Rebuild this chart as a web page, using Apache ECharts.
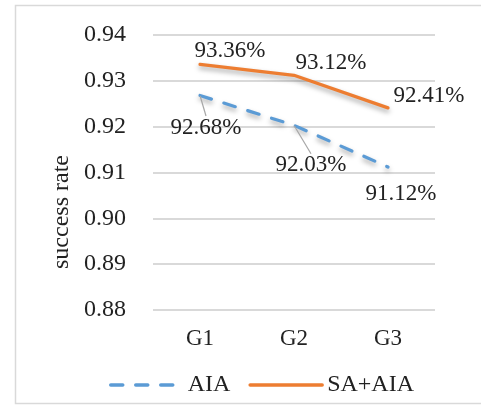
<!DOCTYPE html>
<html>
<head>
<meta charset="utf-8">
<script src="https://cdn.jsdelivr.net/npm/echarts@6/dist/echarts.min.js"></script>
<style>
html,body{margin:0;padding:0;background:#fff;}
#chart{width:481px;height:405px;}
</style>
</head>
<body>
<div id="chart"></div>
<script>
var categories = ['G1', 'G2', 'G3'];
var aiaValues = [0.9268, 0.9203, 0.9112];
var saAiaValues = [0.9336, 0.9312, 0.9241];
var yTicks = [0.88, 0.89, 0.90, 0.91, 0.92, 0.93, 0.94];

var FONT = '"Liberation Serif", "Times New Roman", serif';
var TXT = '#222222';
var FS = 23;

var chart = echarts.init(document.getElementById('chart'));

var aiaOffsets = [[6, 32], [17, 40], [13, 27]];
var aiaLeader = [true, true, false];
var saOffsets = [[30, -13], [37, -12], [41, -12]];

function pct(p) { return (p.value * 100).toFixed(2) + '%'; }

var dashAIA = [12, 13];

chart.setOption({
  animation: false,
  backgroundColor: '#fff',
  graphic: [{
    type: 'rect',
    shape: { x: 15.5, y: 5.5, width: 480, height: 398 },
    style: { fill: 'none', stroke: '#d9d9d9', lineWidth: 1.5 },
    silent: true
  }, {
    type: 'text',
    x: 62, y: 212,
    rotation: Math.PI / 2,
    style: {
      text: 'success rate', fontFamily: FONT, fontSize: 24, fill: TXT,
      textAlign: 'center', textVerticalAlign: 'middle'
    },
    silent: true
  }],
  grid: { left: 153, right: 46, top: 35, bottom: 95 },
  legend: {
    bottom: 3,
    left: 104,
    itemWidth: 72,
    itemHeight: 12,
    itemGap: 18,
    itemStyle: { opacity: 0 },
    textStyle: { fontFamily: FONT, fontSize: 24, color: TXT },
    data: [
      { name: 'AIA', lineStyle: { color: '#5b9bd5', width: 3.5, type: dashAIA, cap: 'round' } },
      { name: 'SA+AIA', lineStyle: { color: '#ed7d31', width: 3.5, type: 'solid', cap: 'round' } }
    ]
  },
  xAxis: {
    type: 'category',
    data: categories,
    boundaryGap: true,
    axisLine: { show: false },
    axisTick: { show: false },
    axisLabel: { fontFamily: FONT, fontSize: FS, color: TXT, margin: 17 }
  },
  yAxis: {
    type: 'value',
    min: yTicks[0],
    max: yTicks[yTicks.length - 1],
    interval: 0.01,
    axisLine: { show: false },
    axisTick: { show: false },
    splitLine: { lineStyle: { color: '#d9d9d9', width: 1.8 } },
    axisLabel: {
      fontFamily: FONT, fontSize: 24, color: TXT, margin: 27,
      formatter: function (v) { return v.toFixed(2); }
    }
  },
  series: [{
    name: 'AIA',
    type: 'line',
    data: aiaValues.map(function (v, i) {
      return { value: v, labelLine: { show: aiaLeader[i] } };
    }),
    symbol: 'circle',
    symbolSize: 1,
    showSymbol: true,
    itemStyle: { color: 'rgba(0,0,0,0)', borderWidth: 0 },
    color: '#5b9bd5',
    lineStyle: {
      color: '#5b9bd5', width: 3.2, type: dashAIA, cap: 'round',
      shadowColor: 'rgba(0,0,0,0.35)', shadowBlur: 5, shadowOffsetY: 3
    },
    label: {
      show: true, position: 'inside', formatter: pct,
      fontFamily: FONT, fontSize: FS, color: TXT
    },
    labelLine: { show: true, lineStyle: { color: '#a6a6a6', width: 1.2 } },
    labelLayout: function (p) {
      var o = aiaOffsets[p.dataIndex];
      return { dx: o[0], dy: o[1] };
    },
    z: 3
  }, {
    name: 'SA+AIA',
    type: 'line',
    data: saAiaValues,
    symbol: 'circle',
    symbolSize: 1,
    showSymbol: true,
    itemStyle: { color: 'rgba(0,0,0,0)', borderWidth: 0 },
    color: '#ed7d31',
    lineStyle: {
      color: '#ed7d31', width: 3.2, cap: 'round',
      shadowColor: 'rgba(0,0,0,0.35)', shadowBlur: 5, shadowOffsetY: 3
    },
    label: {
      show: true, position: 'inside', formatter: pct,
      fontFamily: FONT, fontSize: FS, color: TXT
    },
    labelLayout: function (p) {
      var o = saOffsets[p.dataIndex];
      return { dx: o[0], dy: o[1] };
    },
    z: 4
  }]
});
</script>
</body>
</html>
